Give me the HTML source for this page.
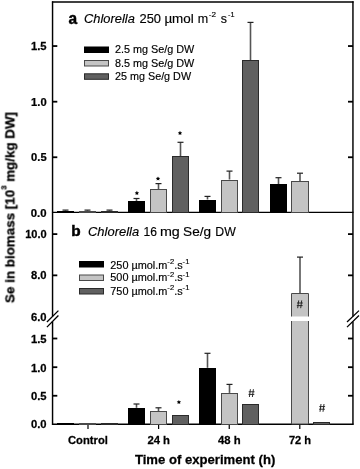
<!DOCTYPE html><html><head><meta charset="utf-8"><style>html,body{margin:0;padding:0;background:#fff;}body{width:360px;height:469px;overflow:hidden;}</style></head><body><svg width="360" height="469" viewBox="0 0 360 469" style="display:block;will-change:transform">
<defs><filter id="bl" x="0" y="0" width="360" height="469" filterUnits="userSpaceOnUse"><feGaussianBlur stdDeviation="0.3"/></filter></defs><g filter="url(#bl)"><rect width="360" height="469" fill="#fff"/>
<line x1="52.55" y1="1.30" x2="52.55" y2="212.35" stroke="#000" stroke-width="1.45"/>
<line x1="352.95" y1="1.30" x2="352.95" y2="212.35" stroke="#000" stroke-width="1.45"/>
<line x1="51.95" y1="1.90" x2="353.55" y2="1.90" stroke="#000" stroke-width="1.45"/>
<line x1="51.95" y1="212.35" x2="353.55" y2="212.35" stroke="#000" stroke-width="1.45"/>
<line x1="52.55" y1="212.35" x2="52.55" y2="316.50" stroke="#000" stroke-width="1.45"/>
<line x1="52.55" y1="321.50" x2="52.55" y2="424.80" stroke="#000" stroke-width="1.45"/>
<line x1="352.95" y1="212.35" x2="352.95" y2="316.50" stroke="#000" stroke-width="1.45"/>
<line x1="352.95" y1="321.50" x2="352.95" y2="424.80" stroke="#000" stroke-width="1.45"/>
<line x1="51.95" y1="424.20" x2="353.55" y2="424.20" stroke="#000" stroke-width="1.45"/>
<line x1="52.55" y1="46.05" x2="57.30" y2="46.05" stroke="#000" stroke-width="1.8"/>
<line x1="348.00" y1="46.05" x2="352.95" y2="46.05" stroke="#000" stroke-width="1.8"/>
<line x1="52.55" y1="101.70" x2="57.30" y2="101.70" stroke="#000" stroke-width="1.8"/>
<line x1="348.00" y1="101.70" x2="352.95" y2="101.70" stroke="#000" stroke-width="1.8"/>
<line x1="52.55" y1="157.25" x2="57.30" y2="157.25" stroke="#000" stroke-width="1.8"/>
<line x1="348.00" y1="157.25" x2="352.95" y2="157.25" stroke="#000" stroke-width="1.8"/>
<line x1="52.55" y1="234.10" x2="57.30" y2="234.10" stroke="#000" stroke-width="1.8"/>
<line x1="348.00" y1="234.10" x2="352.95" y2="234.10" stroke="#000" stroke-width="1.8"/>
<line x1="52.55" y1="275.35" x2="57.30" y2="275.35" stroke="#000" stroke-width="1.8"/>
<line x1="348.00" y1="275.35" x2="352.95" y2="275.35" stroke="#000" stroke-width="1.8"/>
<line x1="52.55" y1="338.50" x2="57.30" y2="338.50" stroke="#000" stroke-width="1.8"/>
<line x1="348.00" y1="338.50" x2="352.95" y2="338.50" stroke="#000" stroke-width="1.8"/>
<line x1="52.55" y1="367.20" x2="57.30" y2="367.20" stroke="#000" stroke-width="1.8"/>
<line x1="348.00" y1="367.20" x2="352.95" y2="367.20" stroke="#000" stroke-width="1.8"/>
<line x1="52.55" y1="395.75" x2="57.30" y2="395.75" stroke="#000" stroke-width="1.8"/>
<line x1="348.00" y1="395.75" x2="352.95" y2="395.75" stroke="#000" stroke-width="1.8"/>
<line x1="88.00" y1="424.20" x2="88.00" y2="429.00" stroke="#000" stroke-width="1.2"/>
<line x1="158.60" y1="424.20" x2="158.60" y2="429.00" stroke="#000" stroke-width="1.2"/>
<line x1="229.25" y1="424.20" x2="229.25" y2="429.00" stroke="#000" stroke-width="1.2"/>
<line x1="299.80" y1="424.20" x2="299.80" y2="429.00" stroke="#000" stroke-width="1.2"/>
<line x1="46.90" y1="322.00" x2="58.40" y2="310.60" stroke="#000" stroke-width="1.3"/>
<line x1="46.90" y1="327.10" x2="58.40" y2="315.50" stroke="#000" stroke-width="1.3"/>
<line x1="347.00" y1="322.00" x2="359.00" y2="310.60" stroke="#000" stroke-width="1.3"/>
<line x1="347.00" y1="327.10" x2="359.00" y2="315.50" stroke="#000" stroke-width="1.3"/>
<line x1="65.5" y1="210.1" x2="65.5" y2="210.8" stroke="#555" stroke-width="1.6"/>
<line x1="62.5" y1="210.1" x2="68.5" y2="210.1" stroke="#222" stroke-width="1.2"/>
<rect x="57.5" y="211.5" width="16" height="1" fill="#000" stroke="#000" stroke-width="1"/>
<line x1="87.5" y1="210.1" x2="87.5" y2="210.8" stroke="#555" stroke-width="1.6"/>
<line x1="84.5" y1="210.1" x2="90.5" y2="210.1" stroke="#222" stroke-width="1.2"/>
<rect x="79.5" y="211.5" width="16" height="1" fill="#c4c4c4" stroke="#4a4a4a" stroke-width="1"/>
<line x1="109.5" y1="210.1" x2="109.5" y2="210.8" stroke="#555" stroke-width="1.6"/>
<line x1="106.5" y1="210.1" x2="112.5" y2="210.1" stroke="#222" stroke-width="1.2"/>
<rect x="101.5" y="211.5" width="16" height="1" fill="#606060" stroke="#2a2a2a" stroke-width="1"/>
<line x1="136.5" y1="198.5" x2="136.5" y2="201" stroke="#555" stroke-width="1.6"/>
<line x1="133.5" y1="198.5" x2="139.5" y2="198.5" stroke="#222" stroke-width="1.2"/>
<rect x="128.5" y="201.5" width="16" height="11" fill="#000" stroke="#000" stroke-width="1"/>
<line x1="158.5" y1="183.6" x2="158.5" y2="189.3" stroke="#555" stroke-width="1.6"/>
<line x1="155.5" y1="183.6" x2="161.5" y2="183.6" stroke="#222" stroke-width="1.2"/>
<rect x="150.5" y="189.5" width="16" height="23" fill="#c4c4c4" stroke="#4a4a4a" stroke-width="1"/>
<line x1="180.5" y1="142.3" x2="180.5" y2="156" stroke="#555" stroke-width="1.6"/>
<line x1="177.5" y1="142.3" x2="183.5" y2="142.3" stroke="#222" stroke-width="1.2"/>
<rect x="172.5" y="156.5" width="16" height="56" fill="#606060" stroke="#2a2a2a" stroke-width="1"/>
<line x1="207.5" y1="196.4" x2="207.5" y2="199.5" stroke="#555" stroke-width="1.6"/>
<line x1="204.5" y1="196.4" x2="210.5" y2="196.4" stroke="#222" stroke-width="1.2"/>
<rect x="199.5" y="200.5" width="16" height="12" fill="#000" stroke="#000" stroke-width="1"/>
<line x1="229.5" y1="171.1" x2="229.5" y2="179.5" stroke="#555" stroke-width="1.6"/>
<line x1="226.5" y1="171.1" x2="232.5" y2="171.1" stroke="#222" stroke-width="1.2"/>
<rect x="221.5" y="180.5" width="16" height="32" fill="#c4c4c4" stroke="#4a4a4a" stroke-width="1"/>
<line x1="250.5" y1="22.4" x2="250.5" y2="60.5" stroke="#555" stroke-width="1.6"/>
<line x1="247.5" y1="22.4" x2="253.5" y2="22.4" stroke="#222" stroke-width="1.2"/>
<rect x="242.5" y="60.5" width="16" height="152" fill="#606060" stroke="#2a2a2a" stroke-width="1"/>
<line x1="278.5" y1="177.7" x2="278.5" y2="184.5" stroke="#555" stroke-width="1.6"/>
<line x1="275.5" y1="177.7" x2="281.5" y2="177.7" stroke="#222" stroke-width="1.2"/>
<rect x="270.5" y="184.5" width="16" height="28" fill="#000" stroke="#000" stroke-width="1"/>
<line x1="300.0" y1="173.2" x2="300.0" y2="181.1" stroke="#555" stroke-width="1.6"/>
<line x1="297.0" y1="173.2" x2="303.0" y2="173.2" stroke="#222" stroke-width="1.2"/>
<rect x="291.5" y="181.5" width="17" height="31" fill="#c4c4c4" stroke="#4a4a4a" stroke-width="1"/>
<polygon points="136.90,190.80 137.58,192.17 139.09,192.39 137.99,193.46 138.25,194.96 136.90,194.25 135.55,194.96 135.81,193.46 134.71,192.39 136.22,192.17" fill="#000"/>
<polygon points="158.00,176.40 158.68,177.77 160.19,177.99 159.09,179.06 159.35,180.56 158.00,179.85 156.65,180.56 156.91,179.06 155.81,177.99 157.32,177.77" fill="#000"/>
<polygon points="180.00,130.80 180.68,132.17 182.19,132.39 181.09,133.46 181.35,134.96 180.00,134.25 178.65,134.96 178.91,133.46 177.81,132.39 179.32,132.17" fill="#000"/>
<polygon points="178.90,399.90 179.58,401.27 181.09,401.49 179.99,402.56 180.25,404.06 178.90,403.35 177.55,404.06 177.81,402.56 176.71,401.49 178.22,401.27" fill="#000"/>
<rect x="57.5" y="423.5" width="16" height="1" fill="#000" stroke="#000" stroke-width="1"/>
<rect x="79.5" y="423.5" width="16" height="1" fill="#c4c4c4" stroke="#4a4a4a" stroke-width="1"/>
<rect x="101.5" y="423.5" width="16" height="1" fill="#606060" stroke="#2a2a2a" stroke-width="1"/>
<line x1="136.5" y1="404" x2="136.5" y2="407.8" stroke="#555" stroke-width="1.6"/>
<line x1="133.5" y1="404" x2="139.5" y2="404" stroke="#222" stroke-width="1.2"/>
<rect x="128.5" y="408.5" width="16" height="16" fill="#000" stroke="#000" stroke-width="1"/>
<line x1="158.5" y1="407.8" x2="158.5" y2="411.1" stroke="#555" stroke-width="1.6"/>
<line x1="155.5" y1="407.8" x2="161.5" y2="407.8" stroke="#222" stroke-width="1.2"/>
<rect x="150.5" y="411.5" width="16" height="13" fill="#c4c4c4" stroke="#4a4a4a" stroke-width="1"/>
<rect x="172.5" y="415.5" width="16" height="9" fill="#606060" stroke="#2a2a2a" stroke-width="1"/>
<line x1="207.5" y1="353.3" x2="207.5" y2="367.8" stroke="#555" stroke-width="1.6"/>
<line x1="204.5" y1="353.3" x2="210.5" y2="353.3" stroke="#222" stroke-width="1.2"/>
<rect x="199.5" y="368.5" width="16" height="56" fill="#000" stroke="#000" stroke-width="1"/>
<line x1="229.5" y1="384.4" x2="229.5" y2="392.9" stroke="#555" stroke-width="1.6"/>
<line x1="226.5" y1="384.4" x2="232.5" y2="384.4" stroke="#222" stroke-width="1.2"/>
<rect x="221.5" y="393.5" width="16" height="31" fill="#c4c4c4" stroke="#4a4a4a" stroke-width="1"/>
<rect x="242.5" y="404.5" width="16" height="20" fill="#606060" stroke="#2a2a2a" stroke-width="1"/>
<rect x="313.5" y="422.5" width="16" height="2" fill="#606060" stroke="#2a2a2a" stroke-width="1"/>
<line x1="300.0" y1="257.1" x2="300.0" y2="293.4" stroke="#555" stroke-width="1.6"/>
<line x1="297.0" y1="257.1" x2="303.0" y2="257.1" stroke="#222" stroke-width="1.2"/>
<path d="M291.5 316.5 V293.5 H308.5 V316.5" fill="#c4c4c4" stroke="#4a4a4a" stroke-width="1"/>
<path d="M291.5 321 V424 H308.5 V321" fill="#c4c4c4" stroke="#4a4a4a" stroke-width="1"/>
<path d="M298.70 300.40 L297.70 308.20 M301.70 300.40 L300.70 308.20 M297.00 303.00 H302.80 M296.80 305.60 H302.60" stroke="#222" stroke-width="0.95" fill="none"/>
<path d="M250.40 389.20 L249.40 397.00 M253.40 389.20 L252.40 397.00 M248.70 391.80 H254.50 M248.50 394.40 H254.30" stroke="#222" stroke-width="0.95" fill="none"/>
<path d="M321.00 404.00 L320.00 411.80 M324.00 404.00 L323.00 411.80 M319.30 406.60 H325.10 M319.10 409.20 H324.90" stroke="#222" stroke-width="0.95" fill="none"/>
<rect x="84.5" y="47.0" width="24" height="5.5" fill="#000" stroke="#000" stroke-width="1"/>
<rect x="84.5" y="60.5" width="24" height="5.5" fill="#c4c4c4" stroke="#4a4a4a" stroke-width="1"/>
<rect x="84.5" y="73.8" width="24" height="5.5" fill="#606060" stroke="#2a2a2a" stroke-width="1"/>
<rect x="79.5" y="261.5" width="24" height="5.5" fill="#000" stroke="#000" stroke-width="1"/>
<rect x="79.5" y="275.0" width="24" height="5.5" fill="#c4c4c4" stroke="#4a4a4a" stroke-width="1"/>
<rect x="79.5" y="288.5" width="24" height="5.5" fill="#606060" stroke="#2a2a2a" stroke-width="1"/>
<text transform="translate(68.50,23.50) scale(0.9667,1)" font-family='"Liberation Sans", sans-serif' font-size="16" font-weight="bold" font-style="normal" stroke="#000" stroke-width="0.45">a</text>
<text transform="translate(84.00,23.20) scale(1.0745,1)" font-family='"Liberation Sans", sans-serif' font-size="12" font-weight="normal" font-style="italic" stroke="#000" stroke-width="0.15">Chlorella</text>
<text transform="translate(139.50,23.20) scale(1.0750,1)" font-family='"Liberation Sans", sans-serif' font-size="12" font-weight="normal" font-style="normal" stroke="#000" stroke-width="0.15">250</text>
<text transform="translate(164.38,23.20) scale(1.1200,1)" font-family='"Liberation Sans", sans-serif' font-size="12" font-weight="normal" font-style="normal" stroke="#000" stroke-width="0.15">µmol</text>
<text transform="translate(197.86,23.20) scale(1.0444,1)" font-family='"Liberation Sans", sans-serif' font-size="12" font-weight="normal" font-style="normal" stroke="#000" stroke-width="0.15">m</text>
<text transform="translate(208.80,17.00) scale(1.0833,1)" font-family='"Liberation Sans", sans-serif' font-size="7.5" font-weight="normal" font-style="normal" stroke="#000" stroke-width="0.15">-2</text>
<text transform="translate(220.70,23.20) scale(1.0333,1)" font-family='"Liberation Sans", sans-serif' font-size="12" font-weight="normal" font-style="normal" stroke="#000" stroke-width="0.15">s</text>
<text transform="translate(228.10,17.00) scale(0.9667,1)" font-family='"Liberation Sans", sans-serif' font-size="7.5" font-weight="normal" font-style="normal" stroke="#000" stroke-width="0.15">-1</text>
<text transform="translate(71.17,236.40) scale(1.0250,1)" font-family='"Liberation Sans", sans-serif' font-size="15" font-weight="bold" font-style="normal" stroke="#000" stroke-width="0.45">b</text>
<text transform="translate(88.00,236.40) scale(1.0809,1)" font-family='"Liberation Sans", sans-serif' font-size="12" font-weight="normal" font-style="italic" stroke="#000" stroke-width="0.15">Chlorella</text>
<text transform="translate(143.49,236.40) scale(1.0083,1)" font-family='"Liberation Sans", sans-serif' font-size="12" font-weight="normal" font-style="normal" stroke="#000" stroke-width="0.15">16</text>
<text transform="translate(159.91,236.40) scale(1.1933,1)" font-family='"Liberation Sans", sans-serif' font-size="12" font-weight="normal" font-style="normal" stroke="#000" stroke-width="0.15">mg</text>
<text transform="translate(183.07,236.40) scale(1.1348,1)" font-family='"Liberation Sans", sans-serif' font-size="12" font-weight="normal" font-style="normal" stroke="#000" stroke-width="0.15">Se/g</text>
<text transform="translate(215.27,236.40) scale(1.0263,1)" font-family='"Liberation Sans", sans-serif' font-size="12" font-weight="normal" font-style="normal" stroke="#000" stroke-width="0.15">DW</text>
<text transform="translate(115.00,53.20) scale(1.0824,1)" font-family='"Liberation Sans", sans-serif' font-size="10" font-weight="normal" font-style="normal" stroke="#000" stroke-width="0.15">2.5 mg Se/g DW</text>
<text transform="translate(115.00,66.60) scale(1.0824,1)" font-family='"Liberation Sans", sans-serif' font-size="10" font-weight="normal" font-style="normal" stroke="#000" stroke-width="0.15">8.5 mg Se/g DW</text>
<text transform="translate(115.00,79.90) scale(1.0789,1)" font-family='"Liberation Sans", sans-serif' font-size="10" font-weight="normal" font-style="normal" stroke="#000" stroke-width="0.15">25 mg Se/g DW</text>
<text transform="translate(110.30,268.50) scale(1.0896,1)" font-family='"Liberation Sans", sans-serif' font-size="10" font-weight="normal" font-style="normal" stroke="#000" stroke-width="0.15">250 µmol.m<tspan dy="-4.5" font-size="7">-2</tspan><tspan dy="4.5">.s</tspan><tspan dy="-4.5" font-size="7">-1</tspan></text>
<text transform="translate(110.30,281.40) scale(1.0896,1)" font-family='"Liberation Sans", sans-serif' font-size="10" font-weight="normal" font-style="normal" stroke="#000" stroke-width="0.15">500 µmol.m<tspan dy="-4.5" font-size="7">-2</tspan><tspan dy="4.5">.s</tspan><tspan dy="-4.5" font-size="7">-1</tspan></text>
<text transform="translate(110.30,294.90) scale(1.0896,1)" font-family='"Liberation Sans", sans-serif' font-size="10" font-weight="normal" font-style="normal" stroke="#000" stroke-width="0.15">750 µmol.m<tspan dy="-4.5" font-size="7">-2</tspan><tspan dy="4.5">.s</tspan><tspan dy="-4.5" font-size="7">-1</tspan></text>
<text transform="translate(31.00,50.00) scale(1.0200,1)" font-family='"Liberation Sans", sans-serif' font-size="11" font-weight="bold" font-style="normal" stroke="#000" stroke-width="0.25">1.5</text>
<text transform="translate(31.10,105.60) scale(1.0133,1)" font-family='"Liberation Sans", sans-serif' font-size="11" font-weight="bold" font-style="normal" stroke="#000" stroke-width="0.25">1.0</text>
<text transform="translate(31.10,160.60) scale(1.0133,1)" font-family='"Liberation Sans", sans-serif' font-size="11" font-weight="bold" font-style="normal" stroke="#000" stroke-width="0.25">0.5</text>
<text transform="translate(30.80,216.50) scale(1.0333,1)" font-family='"Liberation Sans", sans-serif' font-size="11" font-weight="bold" font-style="normal" stroke="#000" stroke-width="0.25">0.0</text>
<text transform="translate(25.20,238.30) scale(1.0048,1)" font-family='"Liberation Sans", sans-serif' font-size="11" font-weight="bold" font-style="normal" stroke="#000" stroke-width="0.25">10.0</text>
<text transform="translate(31.00,279.20) scale(1.0200,1)" font-family='"Liberation Sans", sans-serif' font-size="11" font-weight="bold" font-style="normal" stroke="#000" stroke-width="0.25">8.0</text>
<text transform="translate(31.00,320.70) scale(1.0200,1)" font-family='"Liberation Sans", sans-serif' font-size="11" font-weight="bold" font-style="normal" stroke="#000" stroke-width="0.25">6.0</text>
<text transform="translate(31.00,343.00) scale(1.0200,1)" font-family='"Liberation Sans", sans-serif' font-size="11" font-weight="bold" font-style="normal" stroke="#000" stroke-width="0.25">1.5</text>
<text transform="translate(31.00,371.50) scale(1.0200,1)" font-family='"Liberation Sans", sans-serif' font-size="11" font-weight="bold" font-style="normal" stroke="#000" stroke-width="0.25">1.0</text>
<text transform="translate(31.00,400.10) scale(1.0200,1)" font-family='"Liberation Sans", sans-serif' font-size="11" font-weight="bold" font-style="normal" stroke="#000" stroke-width="0.25">0.5</text>
<text transform="translate(31.00,428.40) scale(1.0200,1)" font-family='"Liberation Sans", sans-serif' font-size="11" font-weight="bold" font-style="normal" stroke="#000" stroke-width="0.25">0.0</text>
<text transform="translate(68.00,443.70) scale(0.9756,1)" font-family='"Liberation Sans", sans-serif' font-size="11.5" font-weight="bold" font-style="normal" stroke="#000" stroke-width="0.25">Control</text>
<text transform="translate(147.40,443.70) scale(0.9826,1)" font-family='"Liberation Sans", sans-serif' font-size="11.5" font-weight="bold" font-style="normal" stroke="#000" stroke-width="0.25">24 h</text>
<text transform="translate(218.00,443.70) scale(0.9870,1)" font-family='"Liberation Sans", sans-serif' font-size="11.5" font-weight="bold" font-style="normal" stroke="#000" stroke-width="0.25">48 h</text>
<text transform="translate(288.90,443.70) scale(0.9652,1)" font-family='"Liberation Sans", sans-serif' font-size="11.5" font-weight="bold" font-style="normal" stroke="#000" stroke-width="0.25">72 h</text>
<text transform="translate(134.90,463.60) scale(1.0101,1)" font-family='"Liberation Sans", sans-serif' font-size="13" font-weight="bold" font-style="normal" stroke="#000" stroke-width="0.25">Time of experiment (h)</text>
<text transform="translate(14.4,207.5) rotate(-90) scale(1.03,1)" font-family='"Liberation Sans", sans-serif' font-size="13" font-weight="bold" stroke="#000" stroke-width="0.25" text-anchor="middle">Se in biomass [10<tspan dy="-7.6" font-size="7.5">3</tspan><tspan dy="7.6"> mg/kg DW]</tspan></text>
</g>
</svg></body></html>
